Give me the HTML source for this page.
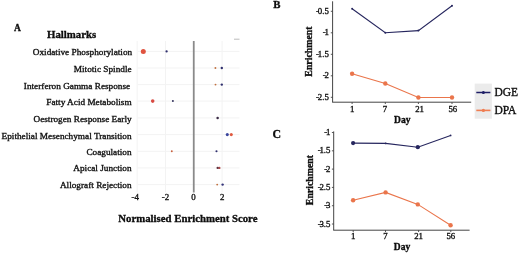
<!DOCTYPE html><html><head><meta charset="utf-8"><style>html,body{margin:0;padding:0;background:#fff;width:520px;height:255px;overflow:hidden}svg{display:block;will-change:transform}text{font-family:"Liberation Serif",serif;fill:#111}.r{stroke:#111;stroke-width:0.35px}.b{stroke:#000;stroke-width:0.3px}</style></head><body>
<svg width="520" height="255" viewBox="0 0 520 255">
<rect width="520" height="255" fill="#fff"/>
<text x="14" y="31" font-size="9.5" font-weight="bold" class="b">A</text>
<text x="47" y="38" font-size="10.8" font-weight="bold" class="b">Hallmarks</text>
<line x1="137.15" y1="41.0" x2="137.15" y2="192.5" stroke="#f3f3f3" stroke-width="1"/>
<line x1="165.45" y1="41.0" x2="165.45" y2="192.5" stroke="#f3f3f3" stroke-width="1"/>
<line x1="222.05" y1="41.0" x2="222.05" y2="192.5" stroke="#f3f3f3" stroke-width="1"/>
<line x1="137.6" y1="51.4" x2="239.5" y2="51.4" stroke="#f3f3f3" stroke-width="1"/>
<line x1="137.6" y1="68.0" x2="239.5" y2="68.0" stroke="#f3f3f3" stroke-width="1"/>
<line x1="137.6" y1="84.6" x2="239.5" y2="84.6" stroke="#f3f3f3" stroke-width="1"/>
<line x1="137.6" y1="101.1" x2="239.5" y2="101.1" stroke="#f3f3f3" stroke-width="1"/>
<line x1="137.6" y1="117.9" x2="239.5" y2="117.9" stroke="#f3f3f3" stroke-width="1"/>
<line x1="137.6" y1="134.6" x2="239.5" y2="134.6" stroke="#f3f3f3" stroke-width="1"/>
<line x1="137.6" y1="151.3" x2="239.5" y2="151.3" stroke="#f3f3f3" stroke-width="1"/>
<line x1="137.6" y1="167.9" x2="239.5" y2="167.9" stroke="#f3f3f3" stroke-width="1"/>
<line x1="137.6" y1="184.6" x2="239.5" y2="184.6" stroke="#f3f3f3" stroke-width="1"/>
<line x1="193.75" y1="41.0" x2="193.75" y2="192.5" stroke="#8a8a8a" stroke-width="1.8"/>
<line x1="234" y1="39.2" x2="239.5" y2="39.2" stroke="#aaa" stroke-width="0.8"/>
<text x="132.2" y="54.9" font-size="9.25" text-anchor="end" class="r">Oxidative Phosphorylation</text>
<text x="131.6" y="71.5" font-size="9.25" text-anchor="end" class="r">Mitotic Spindle</text>
<text x="130.2" y="88.6" font-size="9.25" text-anchor="end" class="r">Interferon Gamma Response</text>
<text x="131.6" y="104.6" font-size="9.25" text-anchor="end" class="r">Fatty Acid Metabolism</text>
<text x="131.6" y="121.9" font-size="9.25" text-anchor="end" class="r">Oestrogen Response Early</text>
<text x="131.6" y="138.7" font-size="9.25" text-anchor="end" class="r">Epithelial Mesenchymal Transition</text>
<text x="131.6" y="155.1" font-size="9.25" text-anchor="end" class="r">Coagulation</text>
<text x="131.6" y="171.4" font-size="9.25" text-anchor="end" class="r">Apical Junction</text>
<text x="131.6" y="188.1" font-size="9.25" text-anchor="end" class="r">Allograft Rejection</text>
<circle cx="143.3" cy="51.4" r="2.5" fill="#e0533f"/>
<circle cx="166.6" cy="51.4" r="1.15" fill="#30306e"/>
<circle cx="215.4" cy="68.0" r="0.95" fill="#c0703f"/>
<circle cx="221.8" cy="68.0" r="1.2" fill="#30306e"/>
<circle cx="215.5" cy="84.6" r="0.95" fill="#c0703f"/>
<circle cx="221.8" cy="84.6" r="1.2" fill="#30306e"/>
<circle cx="152.7" cy="101.1" r="1.8" fill="#d84a42"/>
<circle cx="172.9" cy="101.1" r="1.0" fill="#34345e"/>
<circle cx="217.6" cy="117.9" r="1.25" fill="#3a2a44"/>
<circle cx="227.3" cy="134.6" r="1.55" fill="#3b479e"/>
<circle cx="231.3" cy="134.6" r="1.55" fill="#e05a40"/>
<circle cx="171.8" cy="151.3" r="0.95" fill="#c8603f"/>
<circle cx="216.5" cy="151.3" r="1.05" fill="#30306e"/>
<circle cx="219.3" cy="167.9" r="1.2" fill="#b04848"/>
<circle cx="217.6" cy="167.9" r="1.1" fill="#5a3040"/>
<circle cx="217.2" cy="184.6" r="0.95" fill="#c0703f"/>
<circle cx="222.6" cy="184.6" r="1.2" fill="#35357a"/>
<text x="135.3" y="200.4" font-size="8.9" text-anchor="middle" class="r">-4</text>
<text x="165.4" y="200.4" font-size="8.9" text-anchor="middle" class="r">-2</text>
<text x="193.5" y="200.4" font-size="8.9" text-anchor="middle" class="r">0</text>
<text x="222.3" y="200.4" font-size="8.9" text-anchor="middle" class="r">2</text>
<text x="118.3" y="221.7" font-size="11.1" font-weight="bold" textLength="139.2" lengthAdjust="spacingAndGlyphs" class="b">Normalised Enrichment Score</text>
<text x="273.3" y="7.7" font-size="10.8" font-weight="bold" class="b">B</text>
<line x1="332.6" y1="1.3" x2="332.6" y2="102.2" stroke="#444" stroke-width="1"/>
<line x1="332.2" y1="102.2" x2="471.2" y2="102.2" stroke="#444" stroke-width="1"/>
<line x1="330.8" y1="11.30" x2="332.6" y2="11.30" stroke="#444" stroke-width="0.9"/>
<text x="328.8" y="13.80" font-size="8.8" text-anchor="end" class="r">-<tspan dx="-1.2">0.5</tspan></text>
<line x1="330.8" y1="32.80" x2="332.6" y2="32.80" stroke="#444" stroke-width="0.9"/>
<text x="328.8" y="35.30" font-size="8.8" text-anchor="end" class="r">-<tspan dx="-1.2">1</tspan></text>
<line x1="330.8" y1="54.30" x2="332.6" y2="54.30" stroke="#444" stroke-width="0.9"/>
<text x="328.8" y="56.80" font-size="8.8" text-anchor="end" class="r">-<tspan dx="-1.2">1.5</tspan></text>
<line x1="330.8" y1="75.80" x2="332.6" y2="75.80" stroke="#444" stroke-width="0.9"/>
<text x="328.8" y="78.30" font-size="8.8" text-anchor="end" class="r">-<tspan dx="-1.2">2</tspan></text>
<line x1="330.8" y1="97.30" x2="332.6" y2="97.30" stroke="#444" stroke-width="0.9"/>
<text x="328.8" y="99.80" font-size="8.8" text-anchor="end" class="r">-<tspan dx="-1.2">2.5</tspan></text>
<line x1="352.1" y1="102.2" x2="352.1" y2="104" stroke="#444" stroke-width="0.9"/>
<text x="352.3" y="111.8" font-size="8.8" text-anchor="middle" class="r">1</text>
<line x1="385.3" y1="102.2" x2="385.3" y2="104" stroke="#444" stroke-width="0.9"/>
<text x="385.0" y="111.8" font-size="8.8" text-anchor="middle" class="r">7</text>
<line x1="418.4" y1="102.2" x2="418.4" y2="104" stroke="#444" stroke-width="0.9"/>
<text x="419.6" y="111.8" font-size="8.8" text-anchor="middle" class="r">21</text>
<line x1="452.0" y1="102.2" x2="452.0" y2="104" stroke="#444" stroke-width="0.9"/>
<text x="452.8" y="111.8" font-size="8.8" text-anchor="middle" class="r">56</text>
<text x="402.3" y="123.1" font-size="9.5" font-weight="bold" text-anchor="middle" class="b">Day</text>
<text transform="translate(311.8,51.6) rotate(-90)" x="0" y="0" font-size="9.8" font-weight="bold" text-anchor="middle" class="b">Enrichment</text>
<polyline points="352.1,8.7 385.3,32.7 418.4,30.6 452.0,5.7" fill="none" stroke="#26265e" stroke-width="1.1"/>
<circle cx="352.1" cy="8.7" r="1.0" fill="#26265e"/>
<circle cx="385.3" cy="32.7" r="1.0" fill="#26265e"/>
<circle cx="418.4" cy="30.6" r="1.0" fill="#26265e"/>
<circle cx="452.0" cy="5.7" r="1.0" fill="#26265e"/>
<polyline points="352.1,73.7 385.3,83.5 418.4,97.5 452.0,97.5" fill="none" stroke="#ea754b" stroke-width="1.1"/>
<circle cx="352.1" cy="73.7" r="2.2" fill="#ea754b"/>
<circle cx="385.3" cy="83.5" r="2.2" fill="#ea754b"/>
<circle cx="418.4" cy="97.5" r="2.2" fill="#ea754b"/>
<circle cx="452.0" cy="97.5" r="2.2" fill="#ea754b"/>
<rect x="474.7" y="83.6" width="17.2" height="35.1" fill="#ebebeb"/>
<line x1="476.3" y1="92.5" x2="490.4" y2="92.5" stroke="#1e1e66" stroke-width="1.5"/><circle cx="483.4" cy="92.5" r="1.5" fill="#1e1e66"/>
<line x1="476.3" y1="110.4" x2="490.4" y2="110.4" stroke="#ef7d52" stroke-width="1.6"/><circle cx="483.4" cy="110.4" r="1.6" fill="#ef7d52"/>
<text x="494.4" y="96.2" font-size="11.5" class="r">DGE</text>
<text x="494.4" y="113.8" font-size="11.5" class="r">DPA</text>
<text x="272.6" y="137.8" font-size="11.8" font-weight="bold" class="b">C</text>
<line x1="333.7" y1="131.4" x2="333.7" y2="230.2" stroke="#444" stroke-width="1"/>
<line x1="333.3" y1="230.2" x2="469.6" y2="230.2" stroke="#444" stroke-width="1"/>
<line x1="331.9" y1="132.52" x2="333.7" y2="132.52" stroke="#444" stroke-width="0.9"/>
<text x="330.4" y="135.02" font-size="8.8" text-anchor="end" class="r">-<tspan dx="-1.2">1</tspan></text>
<line x1="331.9" y1="150.82" x2="333.7" y2="150.82" stroke="#444" stroke-width="0.9"/>
<text x="330.4" y="153.32" font-size="8.8" text-anchor="end" class="r">-<tspan dx="-1.2">1.5</tspan></text>
<line x1="331.9" y1="169.12" x2="333.7" y2="169.12" stroke="#444" stroke-width="0.9"/>
<text x="330.4" y="171.62" font-size="8.8" text-anchor="end" class="r">-<tspan dx="-1.2">2</tspan></text>
<line x1="331.9" y1="187.42" x2="333.7" y2="187.42" stroke="#444" stroke-width="0.9"/>
<text x="330.4" y="189.92" font-size="8.8" text-anchor="end" class="r">-<tspan dx="-1.2">2.5</tspan></text>
<line x1="331.9" y1="205.72" x2="333.7" y2="205.72" stroke="#444" stroke-width="0.9"/>
<text x="330.4" y="208.22" font-size="8.8" text-anchor="end" class="r">-<tspan dx="-1.2">3</tspan></text>
<line x1="331.9" y1="224.02" x2="333.7" y2="224.02" stroke="#444" stroke-width="0.9"/>
<text x="330.4" y="226.52" font-size="8.8" text-anchor="end" class="r">-<tspan dx="-1.2">3.5</tspan></text>
<line x1="353.2" y1="230.2" x2="353.2" y2="232" stroke="#444" stroke-width="0.9"/>
<text x="353.2" y="238.9" font-size="8.8" text-anchor="middle" class="r">1</text>
<line x1="385.5" y1="230.2" x2="385.5" y2="232" stroke="#444" stroke-width="0.9"/>
<text x="385.5" y="238.9" font-size="8.8" text-anchor="middle" class="r">7</text>
<line x1="418.6" y1="230.2" x2="418.6" y2="232" stroke="#444" stroke-width="0.9"/>
<text x="418.6" y="238.9" font-size="8.8" text-anchor="middle" class="r">21</text>
<line x1="450.8" y1="230.2" x2="450.8" y2="232" stroke="#444" stroke-width="0.9"/>
<text x="450.8" y="238.9" font-size="8.8" text-anchor="middle" class="r">56</text>
<text x="402.0" y="250.1" font-size="9.5" font-weight="bold" text-anchor="middle" class="b">Day</text>
<text transform="translate(312.9,180.1) rotate(-90)" x="0" y="0" font-size="9.8" font-weight="bold" text-anchor="middle" class="b">Enrichment</text>
<polyline points="353.1,143.1 385.6,143.4 417.8,147.2 450.6,135.4" fill="none" stroke="#26265e" stroke-width="1.1"/>
<circle cx="353.1" cy="143.1" r="2.1" fill="#26265e"/>
<circle cx="385.6" cy="143.4" r="0.9" fill="#26265e"/>
<circle cx="417.8" cy="147.2" r="2.1" fill="#26265e"/>
<circle cx="450.6" cy="135.4" r="0.9" fill="#26265e"/>
<polyline points="353.1,200.3 385.6,192.4 417.8,204.4 450.6,225.3" fill="none" stroke="#ea754b" stroke-width="1.1"/>
<circle cx="353.1" cy="200.3" r="2.2" fill="#ea754b"/>
<circle cx="385.6" cy="192.4" r="2.2" fill="#ea754b"/>
<circle cx="417.8" cy="204.4" r="2.2" fill="#ea754b"/>
<circle cx="450.6" cy="225.3" r="2.2" fill="#ea754b"/>
</svg></body></html>
